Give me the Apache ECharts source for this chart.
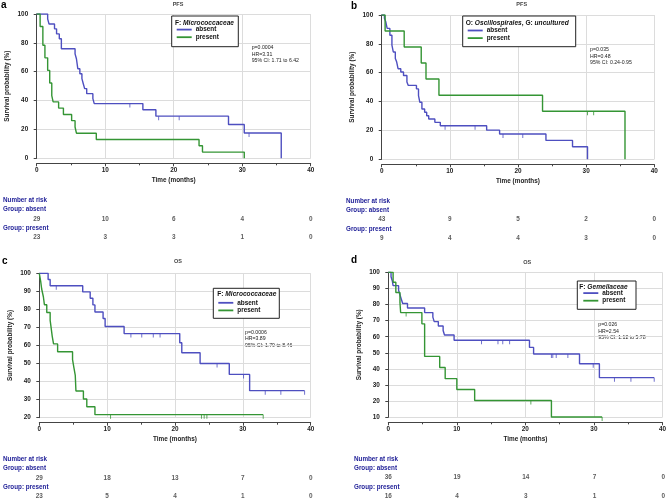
<!DOCTYPE html>
<html><head><meta charset="utf-8">
<script src="https://cdn.jsdelivr.net/npm/echarts@6/dist/echarts.min.js"></script>
<style>html,body{margin:0;padding:0;background:#fff}#c{width:669px;height:500px}</style>
</head><body><div id="c"></div>
<script>
// ---------- DATA ----------
const riskTimes = [0, 10, 20, 30, 40];

// Panel a: PFS, F: Micrococcaceae
const aAbsent = [[0,100],[1.6,96.6],[1.8,93.1],[2.6,89.7],[2.9,86.2],[3.3,82.8],[3.6,75.9],[5.6,72.4],[5.8,69.0],[6.0,62.1],[6.3,58.6],[6.6,55.2],[6.8,51.7],[7.0,48.3],[7.3,44.8],[8.2,41.4],[8.4,37.9],[15.5,33.6],[17.4,29.2],[28.0,23.4],[30.3,17.5],[35.7,0]];
const aAbsentCens = [13.6, 17.8, 20.8, 31.0];
const aPresent = [[0,100],[0.5,91.3],[0.9,78.3],[1.2,69.6],[1.6,60.9],[1.9,52.2],[2.2,43.5],[2.4,39.1],[3.2,34.8],[3.9,30.4],[5.1,26.1],[5.6,21.7],[5.8,17.4],[8.7,13.0],[23.7,8.7],[24.2,4.3],[30.3,0]];
const aPresentCens = [];
const aRiskAbsent = [29, 10, 6, 4, 0];
const aRiskPresent = [23, 3, 3, 1, 0];

// Panel b: PFS, O: Oscillospirales, G: uncultured
const bAbsent = [[0,100],[0.4,97.7],[0.6,95.3],[0.8,90.7],[1.2,86.0],[1.5,79.1],[1.7,74.4],[2.0,69.8],[2.2,67.4],[2.4,62.8],[2.8,60.5],[3.2,58.1],[3.7,53.5],[3.9,51.2],[5.1,48.8],[5.4,44.2],[5.6,39.5],[5.9,34.9],[6.3,32.6],[6.6,30.2],[6.9,27.9],[7.8,25.6],[8.6,23.3],[15.4,20.2],[17.3,17.5],[24.1,13.1],[28.0,8.7],[30.2,0]];
const bAbsentCens = [9.3, 13.7, 17.8, 20.7];
const bPresent = [[0,100],[0.5,88.9],[3.3,77.8],[5.8,66.7],[6.5,55.6],[8.4,44.4],[23.6,33.3],[35.7,0]];
const bPresentCens = [30.2, 31.1];
const bRiskAbsent = [43, 9, 5, 2, 0];
const bRiskPresent = [9, 4, 4, 3, 0];

// Panel c: OS, F: Micrococcaceae
const cAbsent = [[0,100],[1.3,96.6],[1.6,93.1],[6.4,89.7],[7.5,86.2],[7.9,82.5],[8.2,78.6],[9.4,75.0],[9.7,70.5],[12.5,66.6],[20.7,61.5],[21.0,56.0],[23.7,50.0],[28.0,44.0],[31.0,35.0],[39.1,35.0]];
const cAbsentCens = [2.5, 13.5, 15.1, 16.8, 17.8, 26.2, 30.1, 33.3, 35.6, 39.1];
const cPresent = [[0,100],[0.2,95.7],[0.35,91.3],[0.6,87.0],[0.75,82.6],[1.1,78.3],[1.6,73.9],[1.75,69.6],[1.9,65.2],[2.1,60.9],[2.7,56.5],[4.9,52.2],[5.1,47.8],[5.3,43.5],[5.4,34.8],[6.5,30.4],[7.0,26.1],[8.2,21.7],[33.0,21.7]];
const cPresentCens = [10.5, 23.9, 24.3, 24.7, 33.0];
const cRiskAbsent = [29, 18, 13, 7, 0];
const cRiskPresent = [23, 5, 4, 1, 0];

// Panel d: OS, F: Gemellaceae
const dAbsent = [[0,100],[0.4,97.2],[0.6,94.4],[0.7,91.7],[1.5,88.9],[1.7,86.1],[1.9,83.3],[2.1,80.6],[2.8,77.8],[5.3,75.0],[6.5,72.2],[6.7,69.4],[7.3,66.7],[8.0,63.9],[8.2,61.1],[9.6,57.8],[20.6,53.4],[21.2,49.3],[27.9,43.2],[30.8,34.6],[38.8,34.6]];
const dAbsentCens = [13.6, 16.0, 16.7, 17.7, 23.8, 24.0, 24.5, 26.2, 29.9, 33.0, 35.4, 38.8];
const dPresent = [[0,100],[0.7,93.8],[1.1,87.5],[1.7,81.3],[1.8,75.0],[4.9,68.0],[5.3,47.8],[7.5,40.9],[8.3,34.0],[10.0,27.3],[12.6,20.4],[23.8,10.2],[31.2,10.2]];
const dPresentCens = [2.6, 20.8, 31.2];
const dRiskAbsent = [36, 19, 14, 7, 0];
const dRiskPresent = [16, 4, 3, 1, 0];

const panelTitles = ['PFS', 'PFS', 'OS', 'OS'];
const panelLetters = ['a', 'b', 'c', 'd'];
const statsA = ['p=0.0004', 'HR=3.31', '95% CI: 1.71 to 6.42'];
const statsB = ['p=0.035', 'HR=0.48', '95% CI: 0.24-0.95'];
const statsC = ['p=0.0006', 'HR=3.89', '95% CI: 1.79 to 8.46'];
const statsD = ['p=0.026', 'HR=2.54', '95% CI: 1.12 to 5.78'];
const yRanges = [[0,100,20],[0,100,20],[20,100,10],[10,100,10]];

// ---------- BUILD ----------
const BLUE = '#4e4fc0', GREEN = '#349534';
const FONT = 'Liberation Sans';
const panels = [
  {abs:aAbsent, absC:aAbsentCens, pre:aPresent, preC:aPresentCens, rA:aRiskAbsent, rP:aRiskPresent, stats:statsA,
   legTitle:'{b|F: }{i|Micrococcaceae}'},
  {abs:bAbsent, absC:bAbsentCens, pre:bPresent, preC:bPresentCens, rA:bRiskAbsent, rP:bRiskPresent, stats:statsB,
   legTitle:'{b|O: }{i|Oscillospirales}{b|, G: }{i|uncultured}'},
  {abs:cAbsent, absC:cAbsentCens, pre:cPresent, preC:cPresentCens, rA:cRiskAbsent, rP:cRiskPresent, stats:statsC,
   legTitle:'{b|F: }{i|Micrococcaceae}'},
  {abs:dAbsent, absC:dAbsentCens, pre:dPresent, preC:dPresentCens, rA:dRiskAbsent, rP:dRiskPresent, stats:statsD,
   legTitle:'{b|F: }{i|Gemellaceae}'}
];
const L = [
  {left:36.7, top:14, width:274, height:144.3, letter:[1,0], titleX:178, titleY:4, hdrX:3, riskY:[200.7,209.7,219,228.3,237.7], box:[171.7,16,66.6,30.7], legT:[175,22.7], leg:[176.7,26.6], stats:[251.7,47.7]},
  {left:381.7, top:15, width:272.6, height:144.3, letter:[351,1], titleX:521.7, titleY:4, hdrX:346, riskY:[201.7,210.7,219.7,229.3,238.7], box:[462.7,16,113,30.7], legT:[465.7,23.3], leg:[467.7,27.5], stats:[590,50]},
  {left:39.3, top:273.3, width:271.4, height:144.4, letter:[2,256], titleX:178, titleY:261.7, hdrX:3, riskY:[459.3,468.7,478,487.3,496.7], box:[213.3,288.3,66,30], legT:[217.3,294.3], leg:[218.3,299.8], stats:[245,332.3]},
  {left:388.3, top:272.3, width:275, height:145, letter:[351,255], titleX:527.3, titleY:262, hdrX:354, riskY:[459.3,468.7,477.7,487.3,496.7], box:[577.3,281,58.7,28.3], legT:[579.3,286.7], leg:[583.3,290.1], stats:[598.3,325]}
];

function sAt(curve, t) {
  let v = curve[0][1];
  for (const [x, y] of curve) { if (x <= t) v = y; else break; }
  return v;
}

const grid = [], xAxis = [], yAxis = [], series = [], legend = [], graphic = [];
const axisLabelStyle = {fontSize:6.4, fontWeight:'bold', fontFamily:FONT, color:'#222'};

panels.forEach((p, i) => {
  const l = L[i];
  const [ymin, ymax, yint] = yRanges[i];
  grid.push({left:l.left, top:l.top, width:l.width, height:l.height});
  xAxis.push({
    type:'value', gridIndex:i, min:0, max:40, interval:10, offset:5,
    name:'Time (months)', nameLocation:'middle', nameGap:14,
    nameTextStyle:{fontSize:6.4, fontWeight:'bold', fontFamily:FONT, color:'#222'},
    axisLine:{show:true, onZero:false, lineStyle:{color:'#444', width:1}},
    axisTick:{show:true, length:3, lineStyle:{color:'#444'}},
    minorTick:{show:true, splitNumber:2, length:2, lineStyle:{color:'#444'}},
    axisLabel:Object.assign({margin:4}, axisLabelStyle),
    splitLine:{show:true, showMinLine:false, lineStyle:{color:'#dcdcdc', width:1}}
  });
  yAxis.push({
    type:'value', gridIndex:i, min:ymin, max:ymax, interval:yint, offset:4.5,
    name:'Survival probability (%)', nameLocation:'middle', nameGap:22,
    nameTextStyle:{fontSize:6.4, fontWeight:'bold', fontFamily:FONT, color:'#222'},
    axisLine:{show:true, lineStyle:{color:'#444', width:1}},
    axisTick:{show:true, length:3, lineStyle:{color:'#444'}},
    axisLabel:Object.assign({margin:4}, axisLabelStyle),
    splitLine:{show:true, lineStyle:{color:'#dcdcdc', width:1}}
  });
  const mk = (name, data, color) => ({
    type:'line', name, xAxisIndex:i, yAxisIndex:i, step:'end', data, symbol:'none',
    lineStyle:{color, width:1.4}, itemStyle:{color}, silent:true, z:3
  });
  const cens = (name, times, curve, color) => ({
    type:'scatter', name:name + ' censored', xAxisIndex:i, yAxisIndex:i,
    data: times.map(t => [t, sAt(curve, t)]),
    symbol:'rect', symbolSize:[1, 4], symbolOffset:[0, 2], itemStyle:{color}, silent:true, z:4
  });
  series.push(mk('absent', p.abs, BLUE), mk('present', p.pre, GREEN));
  if (p.absC.length) series.push(cens('absent', p.absC, p.abs, BLUE));
  if (p.preC.length) series.push(cens('present', p.preC, p.pre, GREEN));

  // legend items
  legend.push({
    left:l.leg[0], top:l.leg[1], orient:'vertical', padding:0, itemGap:1.6, z:100, zlevel:1,
    itemWidth:15, itemHeight:1.8, icon:'rect', selectedMode:false,
    textStyle:{fontSize:6.4, fontWeight:'bold', fontFamily:FONT, color:'#111', padding:[0,0,0,-1]},
    data:[{name:'absent', itemStyle:{color:BLUE}}, {name:'present', itemStyle:{color:GREEN}}]
  });
  // legend box + title
  graphic.push({type:'rect', shape:{x:l.box[0], y:l.box[1], width:l.box[2], height:l.box[3]},
    style:{fill:'#fff', stroke:'#222', lineWidth:1}, z:10});
  graphic.push({type:'text', x:l.legT[0], y:l.legT[1], z:11,
    style:{text:p.legTitle, verticalAlign:'middle', rich:{
      b:{fontSize:6.6, fontWeight:'bold', fontFamily:FONT, fill:'#111'},
      i:{fontSize:6.6, fontWeight:'bold', fontStyle:'italic', fontFamily:FONT, fill:'#111'}}}});
  // titles & letters
  graphic.push({type:'text', x:l.titleX, y:l.titleY, style:{text:panelTitles[i], align:'center', verticalAlign:'middle',
    fontSize:5.5, fontWeight:'bold', fontFamily:FONT, fill:'#444'}});
  graphic.push({type:'text', x:l.letter[0], y:l.letter[1], style:{text:panelLetters[i], fontSize:10, fontWeight:'bold', fontFamily:FONT, fill:'#000'}});
  // stats
  p.stats.forEach((s, k) => graphic.push({type:'text', x:l.stats[0], y:l.stats[1] + k * 6.5,
    style:{text:s, verticalAlign:'middle', fontSize:5.2, fontFamily:FONT, fill:'#222'}}));
  // risk headers
  const hdr = ['Number at risk', 'Group: absent', null, 'Group: present'];
  hdr.forEach((h, k) => { if (h) graphic.push({type:'text', x:l.hdrX, y:l.riskY[k],
    style:{text:h, verticalAlign:'middle', fontSize:6.3, fontWeight:'bold', fontFamily:FONT, fill:'#1c1c96'}}); });
});

// risk table grids
panels.forEach((p, i) => {
  const l = L[i];
  const gi = 4 + i;
  grid.push({left:l.left, width:l.width, top:l.riskY[2], height:l.riskY[4] - l.riskY[2]});
  xAxis.push({type:'value', gridIndex:gi, min:0, max:40, show:false});
  yAxis.push({type:'value', gridIndex:gi, min:0, max:1, show:false});
  const rows = [];
  riskTimes.forEach((t, k) => { rows.push([t, 1, p.rA[k]]); rows.push([t, 0, p.rP[k]]); });
  series.push({type:'scatter', xAxisIndex:gi, yAxisIndex:gi, data:rows, symbolSize:0.1, silent:true,
    label:{show:true, position:'inside', formatter:d => d.data[2],
      fontSize:6.4, fontWeight:'bold', fontFamily:FONT, color:'#333'}});
});

const chart = echarts.init(document.getElementById('c'), null, {renderer:'canvas'});
chart.setOption({animation:false, backgroundColor:'#fff', grid, xAxis, yAxis, series, legend, graphic});
</script></body></html>
